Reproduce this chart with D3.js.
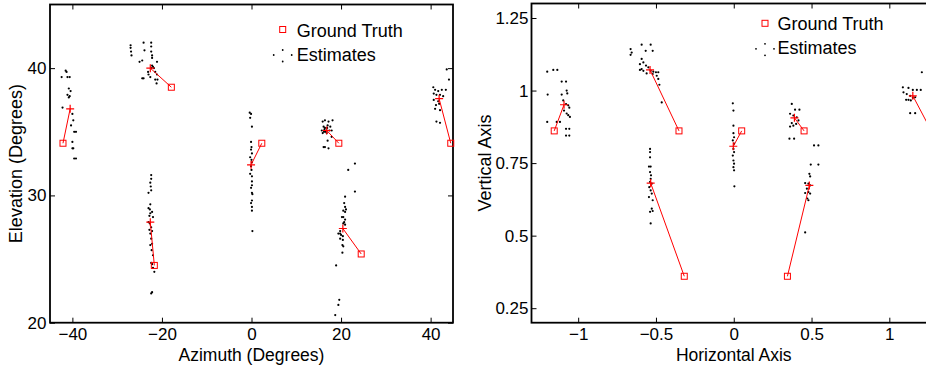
<!DOCTYPE html>
<html>
<head>
<meta charset="utf-8">
<script src="https://cdn.jsdelivr.net/npm/d3@7"></script>
<style>
  body { margin: 0; background: #fff; }
  svg { display: block; font-family: "Liberation Sans", Arial, sans-serif; }
</style>
</head>
<body>
<div id="chart"></div>
<script>
// ---- left panel: azimuth / elevation (degrees) ----
const azElTruth = [[-42.1, 34.1], [-17.9, 38.5], [-21.7, 24.5], [2.3, 34.1], [19.5, 34.1], [24.5, 25.4], [44.5, 34.1]];
const azElMean = [[-40.5, 36.8], [-22.6, 40.0], [-22.6, 27.9], [-0.1, 32.4], [16.8, 35.1], [20.4, 27.4], [41.9, 37.6]];
const azElEstimates = [
  [[-42.4,39.3],[-41.5,39.8],[-41.3,39.7],[-41.1,39.3],[-40.6,39.3],[-40.8,38.4],[-40.4,38.2],[-41.1,37.9],[-40.6,37.8],[-40.8,37.7],
   [-42.2,36.9],[-40.0,36.4],[-39.8,35.9],[-40.3,35.5],[-39.6,35.0],[-39.2,35.0],[-40.0,34.2],[-39.8,33.7],[-40.0,33.7],[-39.6,32.9],[-39.2,32.9]],
  [[-27.0,41.8],[-27.0,41.6],[-26.9,41.3],[-26.8,41.0],[-24.1,42.0],[-23.9,41.4],[-22.4,42.0],[-22.4,41.7],[-22.4,41.3],[-22.2,41.0],
   [-22.2,40.8],[-25.0,40.5],[-24.4,40.6],[-21.1,40.5],[-22.2,40.2],[-22.0,40.1],[-22.4,40.0],[-21.8,40.0],[-23.1,39.7],[-23.0,39.5],
   [-21.5,39.7],[-21.1,39.5],[-24.4,39.2],[-24.1,39.2],[-22.6,39.3],[-21.5,39.1],[-21.0,39.1],[-21.2,38.8]],
  [[-22.4,31.6],[-22.4,31.3],[-22.6,31.0],[-22.5,30.7],[-23.0,30.2],[-22.4,30.4],[-22.6,29.3],[-23.0,29.0],[-22.7,28.9],[-22.2,28.7],
   [-22.6,28.6],[-22.8,28.4],[-22.0,28.3],[-23.0,27.9],[-22.7,27.8],[-22.4,27.5],[-22.8,27.3],[-22.2,27.2],[-22.6,27.0],[-22.4,26.6],
   [-22.2,26.2],[-22.6,26.1],[-22.3,25.7],[-22.0,25.3],[-22.4,24.7],[-22.2,24.6],[-22.0,24.3],[-21.7,24.0],[-22.2,22.4],[-22.4,22.3]],
  [[-0.4,36.5],[-0.1,36.4],[-0.3,36.1],[0.1,35.4],[-0.1,34.2],[0.0,33.8],[-0.1,33.6],[0.1,33.3],[-0.3,33.0],[0.0,32.8],
   [0.1,32.6],[-0.1,32.3],[0.0,32.0],[-0.3,31.7],[0.1,31.5],[0.1,31.1],[0.1,30.8],[-0.1,30.6],[0.1,30.2],[0.2,30.1],
   [0.1,29.6],[-0.1,29.4],[0.1,29.1],[0.1,28.8],[0.2,27.2]],
  [[15.9,35.8],[16.4,35.9],[17.2,35.8],[18.1,35.9],[16.1,35.4],[16.4,35.3],[17.0,35.5],[17.6,35.4],[15.7,35.1],[16.2,35.0],
   [16.8,35.1],[17.4,35.1],[17.9,35.1],[15.9,34.9],[16.8,34.9],[17.9,34.6],[17.0,34.3],[16.1,33.8],[16.4,33.8],[17.2,33.7],
   [21.6,32.0],[23.1,32.5],[16.3,35.2],[16.6,35.0],[16.9,35.3]],
  [[23.1,30.3],[20.9,29.9],[20.7,29.4],[20.9,29.1],[21.1,28.9],[20.5,28.8],[20.9,28.7],[20.2,28.3],[20.5,28.3],[20.9,28.1],
   [20.7,27.9],[20.5,27.8],[20.9,27.7],[19.8,27.2],[19.4,27.0],[19.8,27.0],[20.0,26.9],[20.4,26.8],[19.8,26.6],[20.4,26.5],
   [20.3,26.1],[20.5,26.0],[20.3,25.5],[18.9,24.5],[19.6,21.8],[19.4,21.4],[18.7,20.6]],
  [[43.6,39.9],[44.1,39.1],[40.6,38.5],[41.0,38.3],[41.7,38.2],[42.5,38.3],[43.4,38.3],[40.7,38.0],[41.3,37.9],[42.1,37.9],
   [42.8,37.8],[40.7,37.5],[41.7,37.4],[41.2,37.1],[41.9,37.2],[41.0,36.8],[42.1,36.7],[41.3,35.8],[42.1,35.7]]
];
const azTicks = [-40, -20, 0, 20, 40];
const elTicks = [20, 30, 40];

// ---- right panel: horizontal / vertical axis ----
const planeTruth = [[-1.154, 0.861], [-0.352, 0.861], [-0.318, 0.360], [0.051, 0.861], [0.452, 0.861], [0.345, 0.360], [1.27, 0.861]];
const planeMean = [[-1.091, 0.951], [-0.538, 1.071], [-0.534, 0.681], [-0.003, 0.808], [0.390, 0.906], [0.486, 0.673], [1.151, 0.982]];
const planeEstimates = [
  [[-1.199,1.065],[-1.160,1.071],[-1.134,1.071],[-1.106,1.031],[-1.078,1.031],[-1.196,0.986],[-1.106,0.986],[-1.074,1.0],[-1.07,0.99],[-1.096,0.966],
   [-1.078,0.953],[-1.064,0.949],[-1.057,0.941],[-1.074,0.921],[-1.064,0.915],[-1.053,0.909],[-1.199,0.892],[-1.138,0.892],[-1.117,0.892],[-1.091,0.931],
   [-1.078,0.868],[-1.057,0.868],[-1.078,0.845],[-1.057,0.845]],
  [[-0.663,1.143],[-0.656,1.131],[-0.663,1.123],[-0.592,1.158],[-0.534,1.158],[-0.566,1.137],[-0.521,1.137],[-0.592,1.109],[-0.581,1.097],[-0.603,1.091],
   [-0.564,1.086],[-0.592,1.074],[-0.603,1.071],[-0.549,1.080],[-0.534,1.068],[-0.517,1.065],[-0.5,1.063],[-0.485,1.063],[-0.521,1.057],[-0.495,1.051],
   [-0.485,1.040],[-0.478,1.020],[-0.463,0.959],[-0.581,1.068],[-0.56,1.059]],
  [[-0.538,0.799],[-0.538,0.788],[-0.538,0.770],[-0.545,0.738],[-0.534,0.738],[-0.538,0.719],[-0.532,0.708],[-0.534,0.696],[-0.538,0.685],[-0.527,0.679],
   [-0.543,0.667],[-0.534,0.656],[-0.527,0.645],[-0.545,0.633],[-0.521,0.622],[-0.527,0.593],[-0.538,0.582],[-0.521,0.585],[-0.534,0.542]],
  [[-0.006,0.956],[-0.002,0.931],[-0.002,0.879],[-0.002,0.853],[0.002,0.839],[-0.006,0.828],[0.002,0.817],[-0.002,0.799],[0.002,0.788],[-0.006,0.776],
   [-0.002,0.759],[0.002,0.748],[-0.002,0.736],[0.002,0.725],[0.004,0.670]],
  [[0.373,0.954],[0.394,0.934],[0.422,0.934],[0.362,0.920],[0.383,0.914],[0.405,0.908],[0.416,0.897],[0.373,0.888],[0.362,0.876],[0.383,0.879],
   [0.401,0.885],[0.358,0.834],[0.388,0.834]],
  [[0.516,0.811],[0.544,0.811],[0.495,0.745],[0.544,0.745],[0.486,0.713],[0.491,0.704],[0.459,0.681],[0.480,0.679],[0.491,0.673],[0.470,0.662],
   [0.459,0.647],[0.480,0.650],[0.491,0.645],[0.473,0.628],[0.480,0.622],[0.459,0.511]],
  [[1.209,1.063],[1.087,1.011],[1.123,1.009],[1.151,1.002],[1.177,1.002],[1.202,1.002],[1.091,0.994],[1.112,0.988],[1.134,0.982],[1.151,0.975],
   [1.166,0.977],[1.108,0.968],[1.123,0.968],[1.138,0.966],[1.134,0.922],[1.166,0.922]]
];
const hTicks = [-1, -0.5, 0, 0.5, 1];
const vTicks = [0.25, 0.5, 0.75, 1, 1.25];

const legendLabels = ['Ground Truth', 'Estimates'];

const width = 926, height = 366;
const svg = d3.select('#chart').append('svg')
  .attr('width', width)
  .attr('height', height);

svg.append('rect').attr('width', width).attr('height', height).attr('fill', '#fff');

const fmt = d => String(d).replace('-', '\u2212');

function drawPanel(opt) {
  const x = d3.scaleLinear().domain(opt.xDomain).range([opt.left, opt.right]);
  const y = d3.scaleLinear().domain(opt.yDomain).range([opt.bottom, opt.top]);
  const g = svg.append('g');

  // ticks (inward, on all four sides like matlab's box)
  const axes = [
    [d3.axisBottom(x).tickValues(opt.xTicks).tickFormat(fmt).tickPadding(5.7), `translate(0,${opt.bottom})`],
    [d3.axisTop(x).tickValues(opt.xTicks).tickFormat(''), `translate(0,${opt.top})`],
    [d3.axisLeft(y).tickValues(opt.yTicks).tickFormat(fmt).tickPadding(opt.yPad), `translate(${opt.left},0)`],
    [d3.axisRight(y).tickValues(opt.yTicks).tickFormat(''), `translate(${opt.right},0)`]
  ];
  axes.forEach(([ax, tr]) => {
    const a = g.append('g')
      .attr('transform', tr)
      .call(ax.tickSizeInner(-5).tickSizeOuter(0));
    a.select('.domain').remove();
    a.selectAll('.tick line').attr('stroke', '#000').attr('stroke-width', 1);
    a.selectAll('.tick text')
      .attr('fill', '#000')
      .style('font-size', '17px')
      .style('font-family', '"Liberation Sans", Arial, sans-serif');
  });

  g.append('rect')
    .attr('x', opt.left).attr('y', opt.top)
    .attr('width', opt.right - opt.left).attr('height', opt.bottom - opt.top)
    .attr('fill', 'none').attr('stroke', '#000').attr('stroke-width', 1.8);

  // axis titles
  g.append('text')
    .attr('x', (opt.left + opt.right) / 2).attr('y', 360.5)
    .attr('text-anchor', 'middle')
    .style('font-size', '17.5px')
    .text(opt.xLabel);
  g.append('text')
    .attr('transform', `translate(${opt.yLabelX},${(opt.top + opt.bottom) / 2}) rotate(-90)`)
    .attr('text-anchor', 'middle')
    .style('font-size', '18px')
    .text(opt.yLabel);

  // estimates
  const dots = g.append('g');
  opt.estimates.forEach(cluster => {
    dots.selectAll(null).data(cluster).enter().append('circle')
      .attr('cx', d => x(d[0])).attr('cy', d => y(d[1]))
      .attr('r', 1.1).attr('fill', '#000');
  });

  // red lines truth -> mean
  g.selectAll(null).data(opt.truth).enter().append('line')
    .attr('x1', d => x(d[0])).attr('y1', d => y(d[1]))
    .attr('x2', (d, i) => x(opt.mean[i][0])).attr('y2', (d, i) => y(opt.mean[i][1]))
    .attr('stroke', '#f00').attr('stroke-width', 1);

  // mean '+'
  g.selectAll(null).data(opt.mean).enter().append('path')
    .attr('d', d => `M${x(d[0]) - 4},${y(d[1])}h8M${x(d[0])},${y(d[1]) - 4}v8`)
    .attr('stroke', '#f00').attr('stroke-width', 1.2);

  // ground truth squares
  g.selectAll(null).data(opt.truth).enter().append('rect')
    .attr('x', d => x(d[0]) - 3).attr('y', d => y(d[1]) - 3)
    .attr('width', 6).attr('height', 6)
    .attr('fill', 'none').attr('stroke', '#f00').attr('stroke-width', 1);

  // legend
  const lg = g.append('g').attr('transform', `translate(${opt.legendX},${opt.legendY})`);
  lg.append('rect').attr('x', -3).attr('y', -3).attr('width', 6).attr('height', 6)
    .attr('fill', 'none').attr('stroke', '#f00').attr('stroke-width', 1);
  [[-9, 25.5], [0, 20.5], [0, 32], [9, 25.5]].forEach(p => {
    lg.append('circle').attr('cx', p[0]).attr('cy', p[1]).attr('r', 0.9).attr('fill', '#000');
  });
  lg.selectAll(null).data(legendLabels).enter().append('text')
    .attr('x', opt.legendGap).attr('y', (d, i) => 7 + i * 24)
    .style('font-size', '18px')
    .text(d => d);
}

drawPanel({
  left: 50, right: 453, top: 4.5, bottom: 322.7,
  xDomain: [-45, 45], yDomain: [20, 45],
  xTicks: azTicks, yTicks: elTicks, yPad: 3.5,
  xLabel: 'Azimuth (Degrees)', yLabel: 'Elevation (Degrees)', yLabelX: 22,
  truth: azElTruth, mean: azElMean, estimates: azElEstimates,
  legendX: 282.7, legendY: 29.5, legendGap: 14
});

drawPanel({
  left: 531.5, right: 936, top: 3.5, bottom: 322.7,
  xDomain: [-1.3, 1.3], yDomain: [0.2, 1.3],
  xTicks: hTicks, yTicks: vTicks, yPad: 3,
  xLabel: 'Horizontal Axis', yLabel: 'Vertical Axis', yLabelX: 491,
  truth: planeTruth, mean: planeMean, estimates: planeEstimates,
  legendX: 765, legendY: 23.3, legendGap: 12.5
});
</script>
</body>
</html>
